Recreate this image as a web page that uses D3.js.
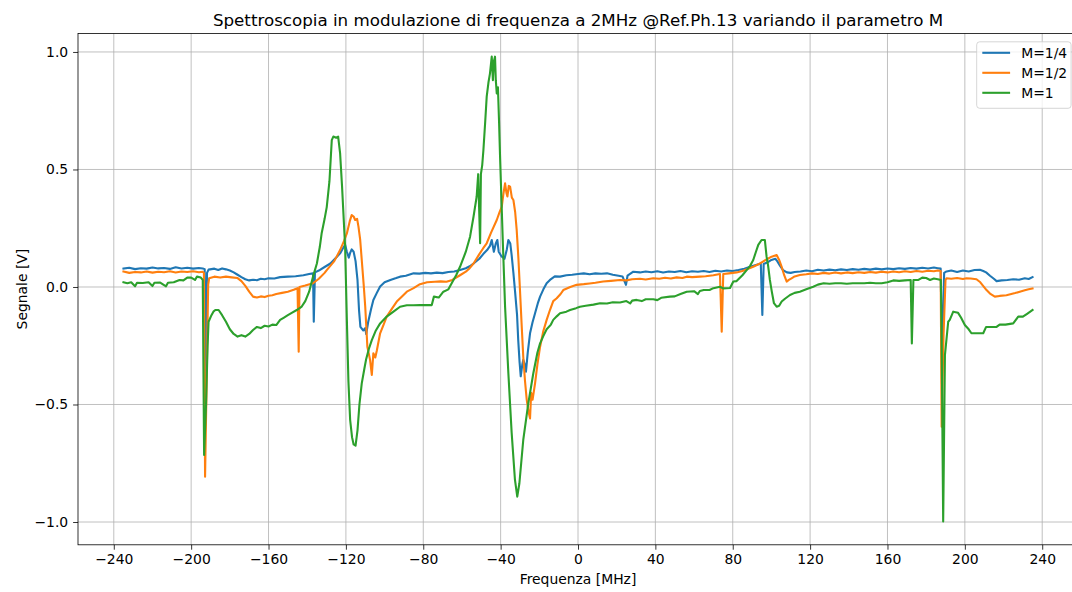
<!DOCTYPE html>
<html>
<head>
<meta charset="utf-8">
<script src="https://cdn.jsdelivr.net/npm/d3@7"></script>
<style>
  html, body { margin: 0; padding: 0; background: #ffffff; }
  svg { display: block; font-family: "DejaVu Sans", sans-serif; }
</style>
</head>
<body>
<svg id="chart" width="1072" height="592"></svg>
<script>
// Frequency sweep tick labels (MHz) and signal ticks (V)
const xTicks = [-240, -200, -160, -120, -80, -40, 0, 40, 80, 120, 160, 200, 240];
const yTicks = [-1.0, -0.5, 0.0, 0.5, 1.0];

const seriesNames = ["M=1/4", "M=1/2", "M=1"];
const seriesColors = ["#1f77b4", "#ff7f0e", "#2ca02c"];

// Signal vs frequency, [MHz, V]
const signalQuarter = [
  [-235,0.078],[-232,0.082],[-229,0.076],[-226,0.080],[-223,0.078],[-220,0.083],[-217,0.079],[-214,0.081],
  [-211,0.077],[-208,0.084],[-205,0.079],[-202,0.082],[-199,0.078],[-196,0.081],[-194,0.079],[-193,0.076],
  [-192.6,-0.40],[-191.8,0.060],[-191,0.074],[-188,0.078],[-186,0.072],[-184,0.079],[-182,0.075],[-180,0.070],
  [-178,0.062],[-176,0.052],[-174,0.042],[-172,0.033],[-170,0.028],[-168,0.031],[-166,0.029],[-164,0.035],
  [-162,0.033],[-160,0.037],[-157,0.036],[-154,0.042],[-150,0.044],[-146,0.046],[-142,0.050],[-139,0.055],
  [-137,0.058],[-136.6,-0.148],[-136,0.062],[-134,0.070],[-131,0.085],[-128,0.100],[-125,0.125],[-123,0.143],
  [-121.5,0.165],[-120.4,0.180],[-119.5,0.150],[-118.5,0.125],[-117.8,0.145],[-117,0.160],[-116,0.150],
  [-115,0.110],[-114,0.030],[-113.2,-0.100],[-112.5,-0.170],[-111,-0.185],[-110,-0.175],[-109.5,-0.200],
  [-108.5,-0.150],[-107,-0.095],[-105.8,-0.055],[-104,-0.025],[-102.3,0.002],[-100,0.020],[-97,0.030],
  [-94,0.038],[-92,0.044],[-89,0.048],[-85,0.058],[-82,0.057],[-79,0.060],[-76,0.058],[-73,0.061],[-70,0.059],
  [-67,0.064],[-64,0.066],[-61,0.072],[-58,0.080],[-56,0.088],[-54,0.100],[-51,0.120],[-49,0.140],[-47,0.157],
  [-45.5,0.175],[-44.6,0.200],[-43.5,0.150],[-42.5,0.185],[-41.7,0.200],[-41,0.150],[-39.5,0.130],[-38,0.120],
  [-36.8,0.160],[-36,0.200],[-35,0.185],[-34.3,0.136],[-33.4,0.060],[-32.6,-0.013],[-31.5,-0.120],
  [-30.9,-0.226],[-30.2,-0.320],[-29.6,-0.380],[-28.8,-0.330],[-28.3,-0.310],[-27.5,-0.330],[-26.9,-0.360],
  [-26,-0.280],[-24.8,-0.197],[-23.5,-0.150],[-22.2,-0.112],[-20.8,-0.070],[-19.6,-0.041],[-17.9,-0.010],
  [-16.2,0.016],[-14.5,0.030],[-12,0.045],[-9.3,0.044],[-6,0.050],[-3,0.052],[0,0.055],[3,0.058],[6,0.054],
  [9,0.058],[12,0.056],[15,0.058],[18,0.052],[21,0.048],[23,0.045],[24.8,0.009],[25.6,0.048],[28.6,0.065],
  [32,0.062],[35,0.066],[38,0.063],[41,0.067],[44,0.062],[47,0.066],[50,0.064],[53,0.068],[56,0.063],
  [59,0.067],[62,0.065],[65,0.068],[68,0.064],[71,0.069],[74,0.066],[77,0.070],[80,0.068],[83,0.072],
  [86,0.078],[89,0.086],[92,0.094],[94.5,0.100],[95.3,-0.119],[96,0.098],[98,0.105],[100,0.115],[102,0.120],
  [103,0.110],[104.5,0.090],[106,0.072],[108,0.062],[110,0.060],[112,0.064],[115,0.066],[118,0.070],
  [121,0.067],[124,0.073],[127,0.070],[130,0.074],[133,0.071],[136,0.075],[139,0.072],[142,0.076],
  [145,0.073],[148,0.077],[151,0.074],[154,0.078],[157,0.075],[160,0.079],[163,0.076],[166,0.080],
  [169,0.077],[172,0.081],[175,0.078],[178,0.082],[181,0.079],[184,0.083],[186,0.080],[187.5,0.078],
  [188.2,-0.30],[189.3,0.060],[190.5,0.066],[193,0.070],[196,0.064],[199,0.070],[202,0.066],[205,0.072],
  [207.8,0.073],[209.5,0.068],[211,0.062],[213,0.048],[215,0.035],[216.4,0.025],[219,0.028],[222,0.030],
  [225,0.033],[228,0.031],[231,0.037],[233,0.034],[235,0.042]
];

const signalHalf = [
  [-235,0.066],[-232,0.060],[-229,0.064],[-226,0.062],[-223,0.066],[-220,0.061],[-217,0.065],[-214,0.063],
  [-211,0.067],[-208,0.062],[-205,0.066],[-202,0.064],[-199,0.067],[-196,0.063],[-194,0.065],[-193.4,0.060],
  [-192.8,-0.807],[-192,-0.40],[-191.2,0.010],[-190.7,0.037],[-188,0.044],[-185,0.040],[-182,0.044],
  [-179,0.041],[-176,0.038],[-174,0.025],[-172,0.005],[-170,-0.020],[-168,-0.041],[-166,-0.045],[-164,-0.040],
  [-162,-0.043],[-160,-0.037],[-158,-0.035],[-156,-0.030],[-153,-0.025],[-150,-0.020],[-147,-0.012],
  [-145,-0.005],[-144.4,-0.275],[-144,0.000],[-141,0.006],[-137,0.016],[-134,0.035],[-131,0.060],
  [-129.9,0.072],[-126,0.110],[-123,0.157],[-121,0.195],[-119.5,0.228],[-118,0.280],[-117,0.306],
  [-116,0.300],[-115.2,0.285],[-114.2,0.290],[-113.5,0.257],[-112.6,0.200],[-111.8,0.115],[-110.8,0.010],
  [-110,-0.084],[-108.9,-0.254],[-107.5,-0.310],[-106.6,-0.374],[-105.8,-0.282],[-104.8,-0.300],
  [-104,-0.270],[-102.3,-0.197],[-100.5,-0.160],[-98.9,-0.126],[-96,-0.090],[-93.7,-0.062],[-91,-0.040],
  [-88.5,-0.020],[-85,-0.005],[-81.7,0.012],[-78,0.020],[-74,0.022],[-71,0.024],[-68,0.022],[-65,0.030],
  [-61,0.050],[-58,0.065],[-56,0.080],[-54,0.100],[-51,0.140],[-49,0.165],[-47.2,0.186],[-45,0.230],
  [-42,0.285],[-40.5,0.320],[-39.4,0.342],[-38.5,0.400],[-37.7,0.441],[-37,0.400],[-36.5,0.385],
  [-35.8,0.430],[-35.1,0.427],[-34.2,0.380],[-33.4,0.370],[-32.5,0.320],[-31.7,0.243],[-30.8,0.120],
  [-30,-0.013],[-29.2,-0.150],[-28.3,-0.297],[-27.4,-0.400],[-26.5,-0.480],[-25.6,-0.530],[-24.8,-0.559],
  [-24.2,-0.450],[-23.5,-0.480],[-22.2,-0.410],[-21,-0.330],[-19.6,-0.254],[-18,-0.190],[-16.2,-0.140],
  [-14.5,-0.098],[-12.8,-0.060],[-11,-0.048],[-9,-0.030],[-7.6,-0.013],[-4,0.000],[-0.7,0.009],[3,0.012],
  [6,0.015],[9,0.018],[13,0.023],[17,0.026],[21.7,0.030],[25,0.028],[28,0.033],[32,0.035],[35,0.032],
  [38.9,0.037],[42,0.035],[45,0.039],[48,0.036],[51,0.041],[54,0.038],[56.2,0.044],[59,0.042],[63,0.044],
  [66,0.046],[70,0.050],[73.4,0.055],[74.3,-0.19],[75.1,0.055],[78,0.058],[82,0.062],[85,0.068],[88,0.078],
  [90.6,0.086],[94.1,0.100],[97,0.115],[100.1,0.129],[102.7,0.136],[104,0.115],[105.3,0.086],[106.6,0.050],
  [107.9,0.023],[109,0.030],[110.4,0.037],[112,0.045],[114.7,0.051],[118,0.054],[121,0.058],[124,0.055],
  [127,0.060],[130,0.057],[133,0.062],[136,0.058],[139,0.062],[142,0.059],[145,0.063],[148,0.060],
  [151,0.064],[154,0.061],[157,0.065],[160,0.062],[163,0.066],[166,0.063],[169,0.067],[172,0.064],
  [175,0.068],[178,0.065],[181,0.069],[184,0.067],[186,0.070],[187.5,0.068],[188,-0.595],[189,-0.20],
  [190,0.030],[190.5,0.037],[193,0.035],[196,0.038],[199,0.034],[200.8,0.037],[203,0.036],[206,0.033],
  [208,0.020],[211.2,-0.013],[213,-0.028],[215.5,-0.041],[218,-0.038],[221.5,-0.035],[224,-0.030],
  [226,-0.026],[228.4,-0.020],[231,-0.014],[233,-0.010],[235,-0.006]
];

const signalOne = [
  [-235,0.020],[-233,0.016],[-231,0.020],[-229,0.003],[-228,0.018],[-225,0.017],[-222,0.020],[-220,0.004],
  [-219,0.018],[-216,0.019],[-213,0.003],[-212,0.018],[-209,0.020],[-206,0.030],[-204,0.028],[-202,0.040],
  [-200,0.040],[-198,0.030],[-197,0.044],[-195,0.040],[-194,0.030],[-193.3,-0.715],[-192.3,-0.50],
  [-191.5,-0.25],[-191,-0.148],[-189.5,-0.120],[-188.5,-0.105],[-187.5,-0.098],[-185.8,-0.098],
  [-184,-0.120],[-182,-0.148],[-180,-0.180],[-178,-0.200],[-176,-0.211],[-174,-0.205],[-172,-0.211],
  [-170,-0.200],[-168,-0.183],[-166,-0.170],[-164,-0.175],[-162,-0.165],[-160,-0.168],[-158,-0.160],
  [-156,-0.162],[-154,-0.140],[-152,-0.130],[-150,-0.120],[-148,-0.110],[-145.4,-0.098],[-143,-0.085],
  [-141,-0.060],[-139,-0.020],[-137,0.044],[-135,0.100],[-133.5,0.170],[-132.5,0.230],[-131,0.290],
  [-129.9,0.340],[-128.5,0.450],[-127.3,0.625],[-126.5,0.640],[-125,0.635],[-124,0.640],[-123,0.570],
  [-122,0.430],[-121.2,0.300],[-120.4,0.170],[-119.5,-0.140],[-118.7,-0.400],[-117.8,-0.566],
  [-116.8,-0.640],[-116,-0.670],[-115,-0.675],[-114,-0.610],[-113,-0.500],[-111.8,-0.410],[-110.5,-0.350],
  [-109.6,-0.310],[-108,-0.260],[-106.6,-0.226],[-104.5,-0.185],[-102.3,-0.155],[-98.9,-0.126],
  [-95.4,-0.105],[-92,-0.084],[-88.5,-0.078],[-85,-0.078],[-81.7,-0.077],[-77,-0.077],[-75.6,-0.077],
  [-74.5,-0.041],[-72,-0.045],[-69.6,-0.020],[-67,-0.010],[-65.3,0.016],[-63,0.050],[-61,0.086],
  [-58,0.150],[-55.8,0.214],[-54,0.300],[-52.4,0.384],[-51.6,0.480],[-51,0.300],[-50.6,0.186],
  [-50.2,0.480],[-49.5,0.520],[-48.9,0.583],[-48,0.700],[-47.2,0.810],[-46.3,0.870],[-45.5,0.909],
  [-44.6,0.980],[-44,0.880],[-43.5,0.960],[-42.9,0.980],[-42.5,0.880],[-42,0.824],[-41.4,0.850],
  [-40.8,0.700],[-40.3,0.555],[-38.9,0.200],[-37.7,-0.084],[-36,-0.367],[-34.3,-0.620],[-32.6,-0.820],
  [-31.4,-0.892],[-30.3,-0.835],[-28.3,-0.651],[-25.7,-0.495],[-23.1,-0.367],[-21,-0.280],[-19.6,-0.240],
  [-18,-0.210],[-16.2,-0.180],[-14,-0.160],[-12.8,-0.140],[-11,-0.125],[-9.3,-0.112],[-6,-0.105],
  [-4.1,-0.098],[-1,-0.090],[1,-0.084],[4,-0.080],[8,-0.075],[11.4,-0.069],[15,-0.070],[18,-0.065],
  [21.7,-0.066],[25,-0.060],[27,-0.070],[28,-0.058],[30.3,-0.055],[33,-0.060],[35,-0.052],[38.9,-0.052],
  [41,-0.056],[43,-0.046],[47.5,-0.041],[50,-0.040],[53,-0.030],[56.2,-0.020],[60,-0.018],[62,-0.030],
  [63,-0.017],[65,-0.013],[68,-0.013],[70,-0.005],[73.4,0.001],[75,-0.006],[78.6,-0.004],[80.3,0.023],
  [82,0.025],[85,0.050],[87.2,0.072],[89,0.090],[90.6,0.115],[92,0.150],[93.2,0.179],[94.9,0.200],
  [96.6,0.200],[97.5,0.129],[98.3,0.090],[99.2,0.030],[100.2,-0.020],[101.3,-0.069],[102.7,-0.084],
  [104,-0.080],[105.3,-0.062],[107,-0.050],[109.6,-0.034],[112,-0.025],[114.7,-0.020],[118,-0.010],
  [121.6,0.001],[124,0.010],[127,0.016],[130,0.014],[133,0.016],[136,0.016],[139,0.014],[142,0.016],
  [145,0.016],[148,0.016],[151,0.018],[154,0.016],[157,0.016],[160,0.020],[163,0.028],[166,0.026],
  [169,0.028],[172,0.030],[172.6,-0.240],[173.4,0.030],[176,0.030],[178,0.040],[180,0.038],[182,0.030],
  [184,0.036],[186,0.033],[187.6,0.030],[188,-0.220],[188.8,-0.998],[189.7,-0.290],[191.4,-0.148],
  [192.2,-0.140],[194,-0.105],[196.5,-0.110],[198,-0.130],[200,-0.162],[202,-0.180],[203.4,-0.197],
  [206,-0.197],[209.5,-0.197],[211,-0.170],[213,-0.170],[216.4,-0.170],[218,-0.160],[221,-0.160],
  [225,-0.155],[227.6,-0.126],[230,-0.126],[232,-0.115],[235,-0.098]
];

const allSeries = [signalQuarter, signalHalf, signalOne];

// ---- layout
const svg = d3.select("#chart");
const W = 1072, H = 592;
const plot = { left: 78, right: 1078, top: 33.4, bottom: 544.8 };

svg.append("rect").attr("width", W).attr("height", H).attr("fill", "#ffffff");

const x = d3.scaleLinear().domain([-258.5, 258.5]).range([plot.left, plot.right]);
const y = d3.scaleLinear().domain([-1.097, 1.079]).range([plot.bottom, plot.top]);

const clip = svg.append("defs").append("clipPath").attr("id", "plotClip")
  .append("rect")
  .attr("x", plot.left).attr("y", plot.top)
  .attr("width", plot.right - plot.left).attr("height", plot.bottom - plot.top);

// grid
const grid = svg.append("g").attr("stroke", "#b0b0b0").attr("stroke-width", 0.8);
grid.selectAll("line.vx").data(xTicks).join("line")
  .attr("x1", d => x(d)).attr("x2", d => x(d))
  .attr("y1", plot.top).attr("y2", plot.bottom);
grid.selectAll("line.hy").data(yTicks).join("line")
  .attr("y1", d => y(d)).attr("y2", d => y(d))
  .attr("x1", plot.left).attr("x2", plot.right);

// traces
const line = d3.line().x(d => x(d[0])).y(d => y(d[1]));
svg.append("g").attr("clip-path", "url(#plotClip)")
  .selectAll("path").data(allSeries).join("path")
  .attr("d", line)
  .attr("fill", "none")
  .attr("stroke", (d, i) => seriesColors[i])
  .attr("stroke-width", 2.1)
  .attr("stroke-linejoin", "round")
  .attr("stroke-linecap", "square");

// axes
const tickFont = 13.9;
const xAxis = d3.axisBottom(x).tickValues(xTicks).tickSize(4.9).tickPadding(4.9)
  .tickFormat(d3.format("d"));
const gx = svg.append("g").attr("transform", `translate(0,${plot.bottom})`).call(xAxis);
const yAxis = d3.axisLeft(y).tickValues(yTicks).tickSize(4.9).tickPadding(4.9)
  .tickFormat(d3.format(".1f"));
const gy = svg.append("g").attr("transform", `translate(${plot.left},0)`).call(yAxis);

[gx, gy].forEach(g => {
  g.select(".domain").remove();
  g.selectAll(".tick line").attr("stroke", "#000").attr("stroke-width", 0.8);
  g.selectAll(".tick text").attr("fill", "#000")
    .attr("font-family", "DejaVu Sans").attr("font-size", tickFont);
});

// spines
const spines = svg.append("g").attr("stroke", "#000").attr("stroke-width", 0.8).attr("fill", "none");
spines.append("rect")
  .attr("x", plot.left).attr("y", plot.top)
  .attr("width", plot.right - plot.left).attr("height", plot.bottom - plot.top);

// labels
const cx = (plot.left + plot.right) / 2;
svg.append("text").attr("x", cx).attr("y", 25.5)
  .attr("text-anchor", "middle").attr("font-size", 16.7).attr("fill", "#000")
  .text("Spettroscopia in modulazione di frequenza a 2MHz @Ref.Ph.13 variando il parametro M");
svg.append("text").attr("x", cx).attr("y", 584)
  .attr("text-anchor", "middle").attr("font-size", tickFont).attr("fill", "#000")
  .text("Frequenza [MHz]");
svg.append("text")
  .attr("transform", `translate(27,${(plot.top + plot.bottom) / 2}) rotate(-90)`)
  .attr("text-anchor", "middle").attr("font-size", tickFont).attr("fill", "#000")
  .text("Segnale [V]");

// legend
const lg = svg.append("g").attr("transform", "translate(976.7,41.8)");
lg.append("rect").attr("width", 94.4).attr("height", 66.5).attr("rx", 3).attr("ry", 3)
  .attr("fill", "#ffffff").attr("fill-opacity", 0.8)
  .attr("stroke", "#cccccc").attr("stroke-width", 0.8);
const rows = lg.selectAll("g.row").data(seriesNames).join("g")
  .attr("transform", (d, i) => `translate(0,${11 + i * 20})`);
rows.append("line").attr("x1", 5.6).attr("x2", 33.4).attr("y1", 0).attr("y2", 0)
  .attr("stroke", (d, i) => seriesColors[i]).attr("stroke-width", 2.1);
rows.append("text").attr("x", 44.5).attr("y", 0).attr("dy", "0.36em")
  .attr("font-size", tickFont).attr("fill", "#000").text(d => d);
</script>
</body>
</html>
